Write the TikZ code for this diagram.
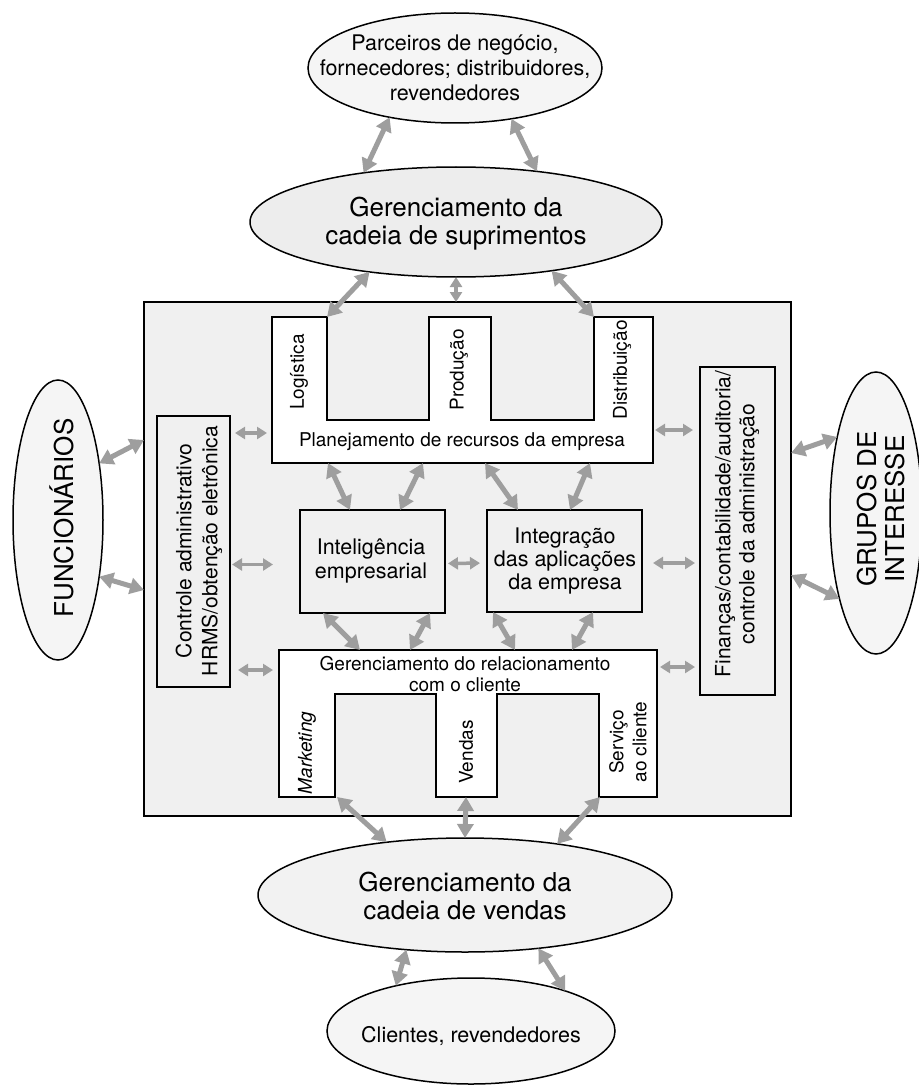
\documentclass[tikz,border=0pt]{standalone}
\usepackage{fontspec}
\setmainfont{TeX Gyre Heros}
\usetikzlibrary{arrows.meta,calc,shapes.geometric}
\begin{document}
\begin{tikzpicture}[x=1pt,y=-1pt,
  ell/.style={ellipse, draw=black, line width=1.5pt, fill=black!4, inner sep=0pt, outer sep=0pt},
  box/.style={rectangle, inner sep=0pt, outer sep=0pt},
  frame/.style={draw=black, line width=1.6pt},
  biarrow/.style={draw=black!38, line width=5pt,
    {Triangle[length=14pt,width=16pt]}-{Triangle[length=14pt,width=16pt]}},
  shortarrow/.style={draw=black!38, line width=3.5pt,
    {Triangle[length=10pt,width=12pt]}-{Triangle[length=10pt,width=12pt]}},
  bigtext/.style={font=\fontsize{26}{28}\selectfont, align=center, inner sep=0pt},
  midtext/.style={font=\fontsize{21.5}{25}\selectfont, align=center, inner sep=0pt},
  labtext/.style={font=\fontsize{19}{21}\selectfont, align=center, inner sep=0pt},
]
\useasboundingbox (0,0) rectangle (918,1086);

% enterprise frame
\node[box, frame, fill=black!6, minimum width=647pt, minimum height=514pt] (main) at (467.5,559) {};

% ERP block with its three columns
\node[box, minimum width=381pt, minimum height=146pt] (erp) at (462.5,390) {};
\draw[frame, fill=white] (erp.north west) -- ++(55,0) -- ++(0,103) -- ++(102,0) -- ++(0,-103)
  -- ++(62,0) -- ++(0,103) -- ++(103,0) -- ++(0,-103) -- (erp.north east)
  -- (erp.south east) -- (erp.south west) -- cycle;

% CRM block with its three columns
\node[box, minimum width=378pt, minimum height=147pt] (crm) at (468,723.5) {};
\draw[frame, fill=white] (crm.north west) -- (crm.north east) -- (crm.south east)
  -- ++(-58,0) -- ++(0,-103) -- ++(-102,0) -- ++(0,103) -- ++(-61,0) -- ++(0,-103)
  -- ++(-101,0) -- ++(0,103) -- (crm.south west) -- cycle;

% side and centre boxes
\node[box, frame, minimum width=73pt, minimum height=271pt] (ctl) at (193.5,551.5) {};
\node[box, frame, minimum width=75pt, minimum height=328pt] (fin) at (737.5,531) {};
\node[box, frame, minimum width=145pt, minimum height=103pt] (int) at (372.5,561.5) {};
\node[box, frame, minimum width=155pt, minimum height=102pt] (eai) at (564.5,561) {};

% outer ellipses
\node[ell, minimum width=294pt, minimum height=110pt] (par) at (455,68) {};
\node[ell, fill=black!7, minimum width=412pt, minimum height=110pt] (sup) at (456,222) {};
\node[ell, minimum width=90pt, minimum height=280pt] (fun) at (58,520) {};
\node[ell, minimum width=92pt, minimum height=282pt] (gru) at (876,513) {};
\node[ell, fill=black!5, minimum width=414pt, minimum height=114pt] (ven) at (465,895) {};
\node[ell, minimum width=288pt, minimum height=106pt] (cli) at (471,1031) {};

% supply chain side
\draw[biarrow] (par.217) -- (sup.152);
\draw[biarrow] (par.318) -- (sup.32);
\draw[biarrow] (sup.210) -- ($(erp.north west)+(55,0)$);
\draw[shortarrow] (sup.south) -- (sup.south |- main.north);
\draw[biarrow] (sup.333) -- ($(erp.north west)+(322,0)$);

% employees and interest groups
\draw[biarrow] ($(main.north west)+(0,138)$) -- (fun.54);
\draw[biarrow] (fun.306) -- ($(main.north west)+(0,288)$);
\draw[biarrow] ($(main.north east)+(0,151)$) -- (gru.117);
\draw[biarrow] ($(main.north east)+(0,273)$) -- (gru.247);

% sales chain side
\draw[biarrow] ($(crm.south west)+(58,0)$) -- (ven.146);
\draw[biarrow] ($(crm.south west)+(187,0)$) -- (ven.north);
\draw[biarrow] ($(crm.south east)+(-57,0)$) -- (ven.29);
\draw[biarrow] (ven.223) -- (cli.149);
\draw[biarrow] (ven.324) -- (cli.23);

% links inside the enterprise
\draw[shortarrow, shorten <=5pt, shorten >=5pt] ($(ctl.north east)+(0,17)$) -- ($(erp.south west)+(0,-30)$);
\draw[shortarrow, shorten <=2pt, shorten >=27pt] ($(ctl.east |- int.west)+(0,3)$) -- ($(int.west)+(0,3)$);
\draw[shortarrow, shorten <=8pt, shorten >=6pt] ($(ctl.east |- crm.north west)+(0,20)$) -- ($(crm.north west)+(0,20)$);
\draw[shortarrow, shorten <=3pt, shorten >=7pt] ($(int.east)+(0,2)$) -- ($(eai.west)+(0,2)$);
\draw[shortarrow, shorten <=11pt, shorten >=5pt] ($(eai.east)+(0,2)$) -- ($(fin.west |- eai.east)+(0,2)$);
\draw[shortarrow, shorten <=2pt, shorten >=7pt] ($(erp.south east)+(0,-33)$) -- ($(fin.west |- erp.south east)+(0,-33)$);
\draw[shortarrow, shorten <=3pt, shorten >=5pt] ($(crm.north east)+(0,17)$) -- ($(fin.west |- crm.north east)+(0,17)$);

\draw[biarrow] ($(erp.south west)+(56,0)$) -- ($(int.north west)+(50,0)$);
\draw[biarrow] ($(erp.south west)+(151,0)$) -- ($(int.north west)+(100,0)$);
\draw[biarrow] ($(erp.south west)+(213,0)$) -- ($(eai.north west)+(31,0)$);
\draw[biarrow] ($(erp.south west)+(318,0)$) -- ($(eai.north west)+(83,0)$);
\draw[biarrow] ($(int.south west)+(23,0)$) -- ($(crm.north west)+(81,0)$);
\draw[biarrow] ($(int.south west)+(130,0)$) -- ($(crm.north west)+(131,0)$);
\draw[biarrow] ($(eai.south west)+(6,0)$) -- ($(crm.north west)+(236,0)$);
\draw[biarrow] ($(eai.south west)+(106,0)$) -- ($(crm.north west)+(293,0)$);

% texts
\node[midtext] (tpar) at (par) {Parceiros de negócio,\\fornecedores; distribuidores,\\revendedores};
\node[bigtext] (tsup) at ($(sup)+(0,2)$) {Gerenciamento da\\cadeia de suprimentos};
\node[bigtext, rotate=90] (tfun) at ($(fun)+(4,-2)$) {FUNCIONÁRIOS};
\node[bigtext, rotate=90] (tgru) at ($(gru)+(5,-4)$) {GRUPOS DE\\INTERESSE};
\node[bigtext] (tven) at ($(ven)+(0,1)$) {Gerenciamento da\\cadeia de vendas};
\node[midtext] (tcli) at ($(cli)+(0,5)$) {Clientes, revendedores};

\node[labtext, rotate=90] (tlog) at (299,372) {Logística};
\node[labtext, rotate=90] (tpro) at (459,370) {Produção};
\node[labtext, rotate=90] (tdis) at (622,370) {Distribuição};
\node[labtext] (terp) at (462,442) {Planejamento de recursos da empresa};

\node[labtext] (tcrm) at (465,674) {Gerenciamento do relacionamento\\com o cliente};
\node[labtext, rotate=90] (tmkt) at (307,753) {\itshape Marketing};
\node[labtext, rotate=90] (tvnd) at (466,752) {Vendas};
\node[labtext, rotate=90, font=\fontsize{19}{23}\selectfont] (tsrv) at (628,742) {Serviço\\ao cliente};

\node[midtext, rotate=90, font=\fontsize{21}{26}\selectfont] (tctl) at (199,551) {Controle administrativo\\HRMS/obtenção eletrônica};
\node[midtext, rotate=90, font=\fontsize{21}{24}\selectfont] (tfin) at (737,524) {Finanças/contabilidade/auditoria/\\controle da administração};
\node[midtext, font=\fontsize{21.5}{24}\selectfont] (tint) at (371,561) {Inteligência\\empresarial};
\node[midtext, font=\fontsize{21.5}{23}\selectfont] (teai) at (565,561) {Integração\\das aplicações\\da empresa};
\end{tikzpicture}
\end{document}
